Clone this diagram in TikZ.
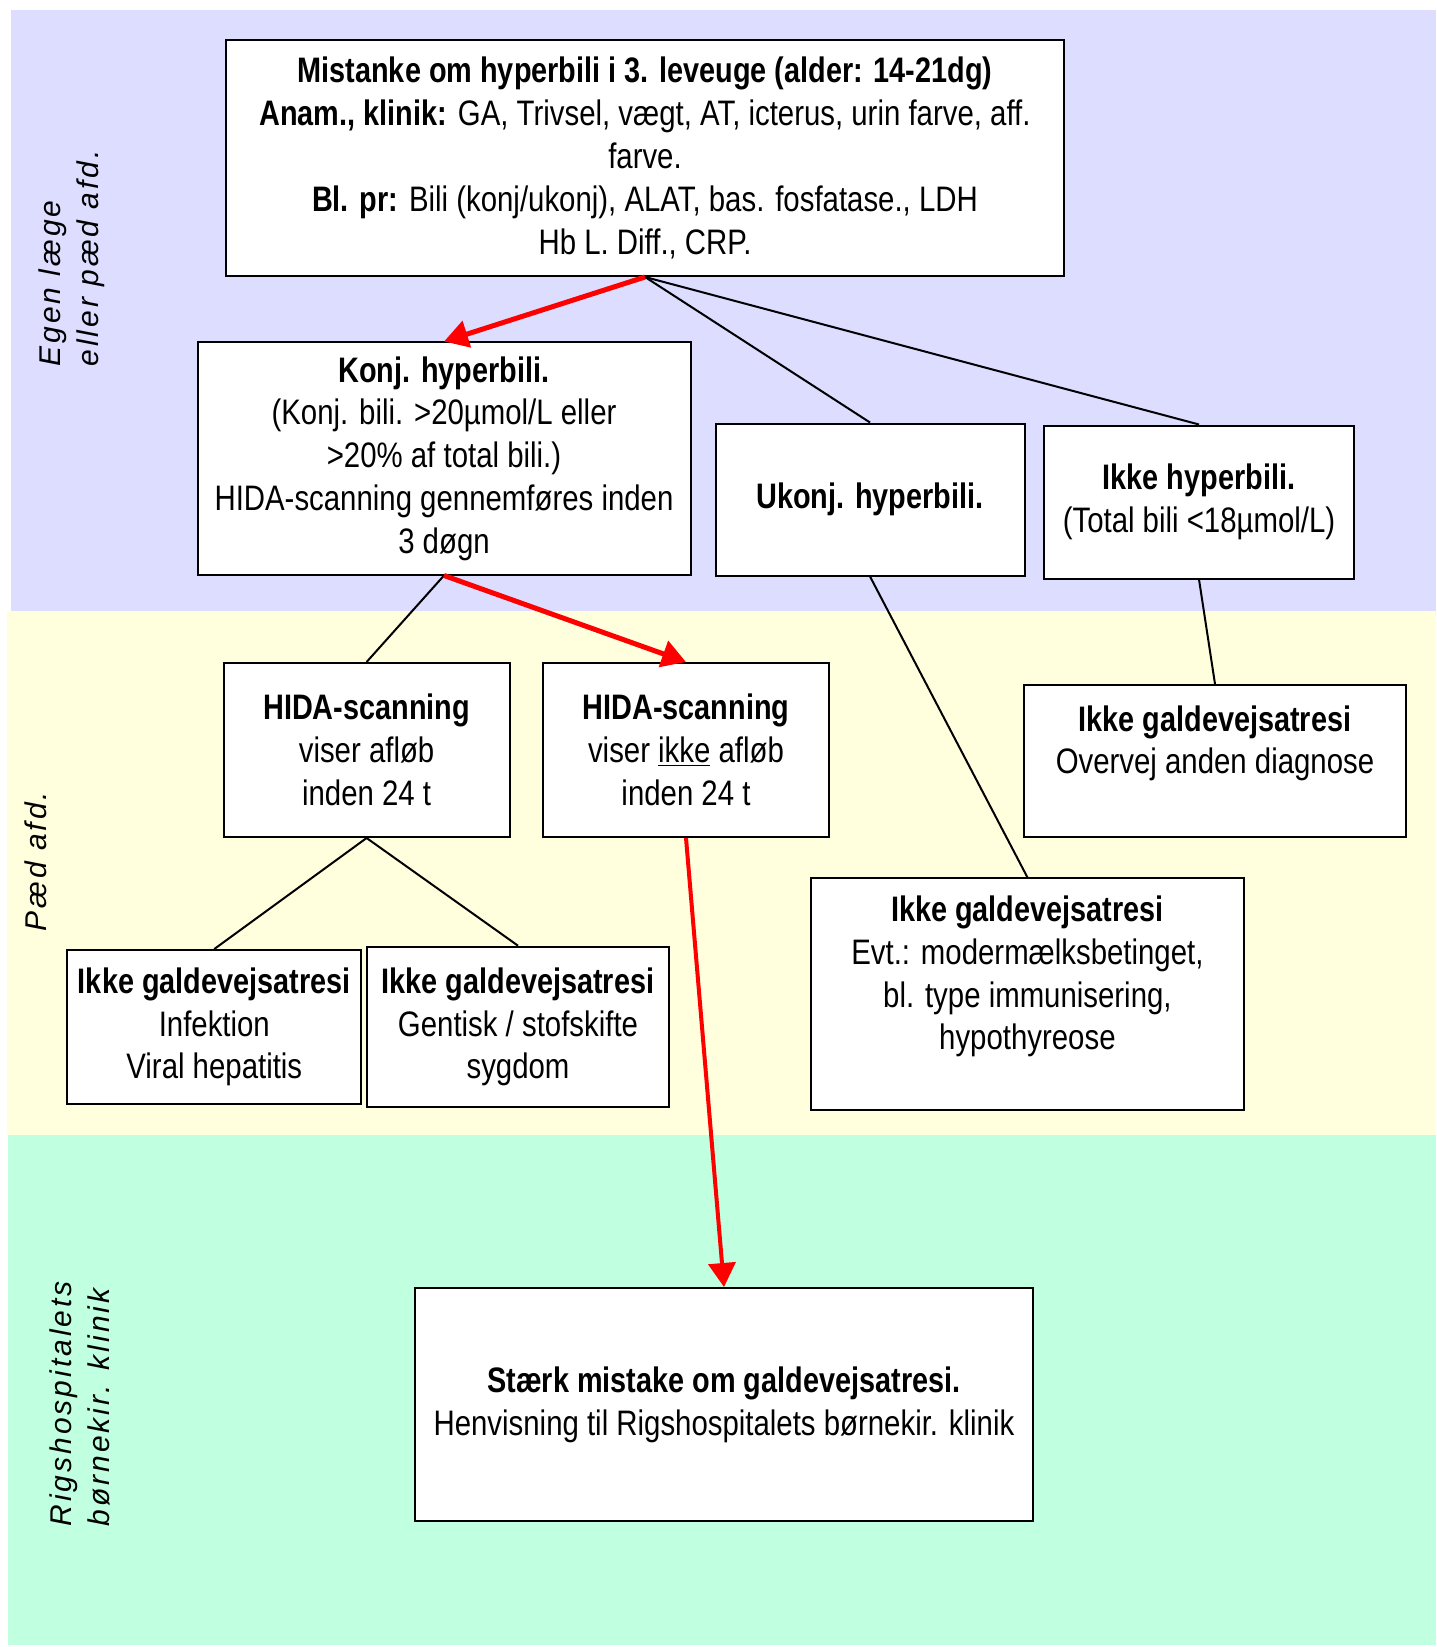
\documentclass[tikz,border=0pt]{standalone}
\usepackage{fontspec}
\setmainfont[FakeStretch=0.83, BoldFeatures={FakeStretch=0.815}]{Liberation Sans}
\newfontfamily\sidefont[LetterSpace=10]{Liberation Sans}
\usetikzlibrary{arrows.meta}

\definecolor{bandtop}{HTML}{DDDDFF}
\definecolor{bandmid}{HTML}{FFFFDD}
\definecolor{bandlow}{HTML}{C0FFE0}

\tikzset{
  box/.style={draw, line width=1pt, fill=white, align=center, inner sep=0pt,
    font=\fontsize{17.7}{21.4}\selectfont},
  link/.style={line width=1pt},
  redlink/.style={draw=red, line width=2.5pt, -{Triangle[length=12pt,width=13.5pt]}},
  side/.style={rotate=90, anchor=north west, align=left, inner sep=0pt,
    font=\sidefont\itshape\fontsize{15}{19}\selectfont}
}

\begin{document}
\begin{tikzpicture}[x=0.5pt,y=-0.5pt]
\useasboundingbox (0,0) rectangle (1436,1647);

% Bands
\fill[bandtop] (10.5,10.5) rectangle (1436,611);
\fill[bandmid] (7.4,611) rectangle (1436,1134.5);
\fill[bandlow] (8.4,1134.5) rectangle (1436,1645);

% Side labels
\node[side] (egen) at (38,367) {Egen læge\\eller pæd afd.};
\node[side] (paed) at (24,932) {Pæd afd.};
\node[side] (rigs) at (49,1527) {Rigshospitalets\\børnekir. klinik};

% Nodes
\node[box, minimum width=419pt, minimum height=118pt] (mistanke) at (645,158)
  {\textbf{Mistanke om hyperbili i 3. leveuge (alder: 14-21dg)}\\
   \textbf{Anam., klinik:} GA, Trivsel, vægt, AT, icterus, urin farve, aff.\\
   farve.\\
   \textbf{Bl. pr:} Bili (konj/ukonj), ALAT, bas. fosfatase., LDH\\
   Hb L. Diff., CRP.};
\node[box, minimum width=246.5pt, minimum height=116pt] (konj) at (444,458.5)
  {\textbf{Konj. hyperbili.}\\
   (Konj. bili. >20µmol/L eller\\
   >20\% af total bili.)\\
   HIDA-scanning gennemføres inden\\
   3 døgn};
\node[box, minimum width=154.5pt, minimum height=76pt] (ukonj) at (870,499.5)
  {\textbf{Ukonj. hyperbili.}};
\node[box, minimum width=155pt, minimum height=76.5pt] (ikkehyp) at (1199,502)
  {\textbf{Ikke hyperbili.}\\
   (Total bili <18µmol/L)};
\node[box, minimum width=143pt, minimum height=87pt] (hidaja) at (366.6,750)
  {\textbf{HIDA-scanning}\\
   viser afløb\\
   inden 24 t};
\node[box, minimum width=143pt, minimum height=87pt] (hidanej) at (686,750)
  {\textbf{HIDA-scanning}\\
   viser \underline{ikke} afløb\\
   inden 24 t};
\node[box, minimum width=190.7pt, minimum height=76pt] (overvej) at (1215,761)
  {\textbf{Ikke galdevejsatresi}\\
   Overvej anden diagnose\\ \mbox{}};
\node[box, minimum width=216.4pt, minimum height=116pt] (evt) at (1027.4,994.3)
  {\textbf{Ikke galdevejsatresi}\\
   Evt.: modermælksbetinget,\\
   bl. type immunisering,\\
   hypothyreose\\ \mbox{}};
\node[box, minimum width=147pt, minimum height=77pt] (infek) at (214.3,1027)
  {\textbf{Ikke galdevejsatresi}\\
   Infektion\\
   Viral hepatitis};
\node[box, minimum width=151.3pt, minimum height=80.3pt] (gentisk) at (518,1027)
  {\textbf{Ikke galdevejsatresi}\\
   Gentisk / stofskifte\\
   sygdom};
\node[box, minimum width=309pt, minimum height=116.5pt] (staerk) at (724,1404.5)
  {\textbf{Stærk mistake om galdevejsatresi.}\\
   Henvisning til Rigshospitalets børnekir. klinik};

% Links
\draw[redlink] (mistanke.south) -- (konj.north); % mistanke --> konj
\draw[link] (mistanke.south) -- (ukonj.north); % mistanke --> ukonj
\draw[link] (mistanke.south) -- (ikkehyp.north); % mistanke --> ikkehyp
\draw[link] (konj.south) -- (hidaja.north); % konj --> hidaja
\draw[redlink] (konj.south) -- (hidanej.north); % konj --> hidanej
\draw[link] (ukonj.south) -- (evt.north); % ukonj --> evt
\draw[link] (ikkehyp.south) -- (overvej.north); % ikkehyp --> overvej
\draw[link] (hidaja.south) -- (infek.north); % hidaja --> infek
\draw[link] (hidaja.south) -- (gentisk.north); % hidaja --> gentisk
\draw[redlink, line width=2pt] (hidanej.south) -- (staerk.north); % hidanej --> staerk

\end{tikzpicture}
\end{document}
